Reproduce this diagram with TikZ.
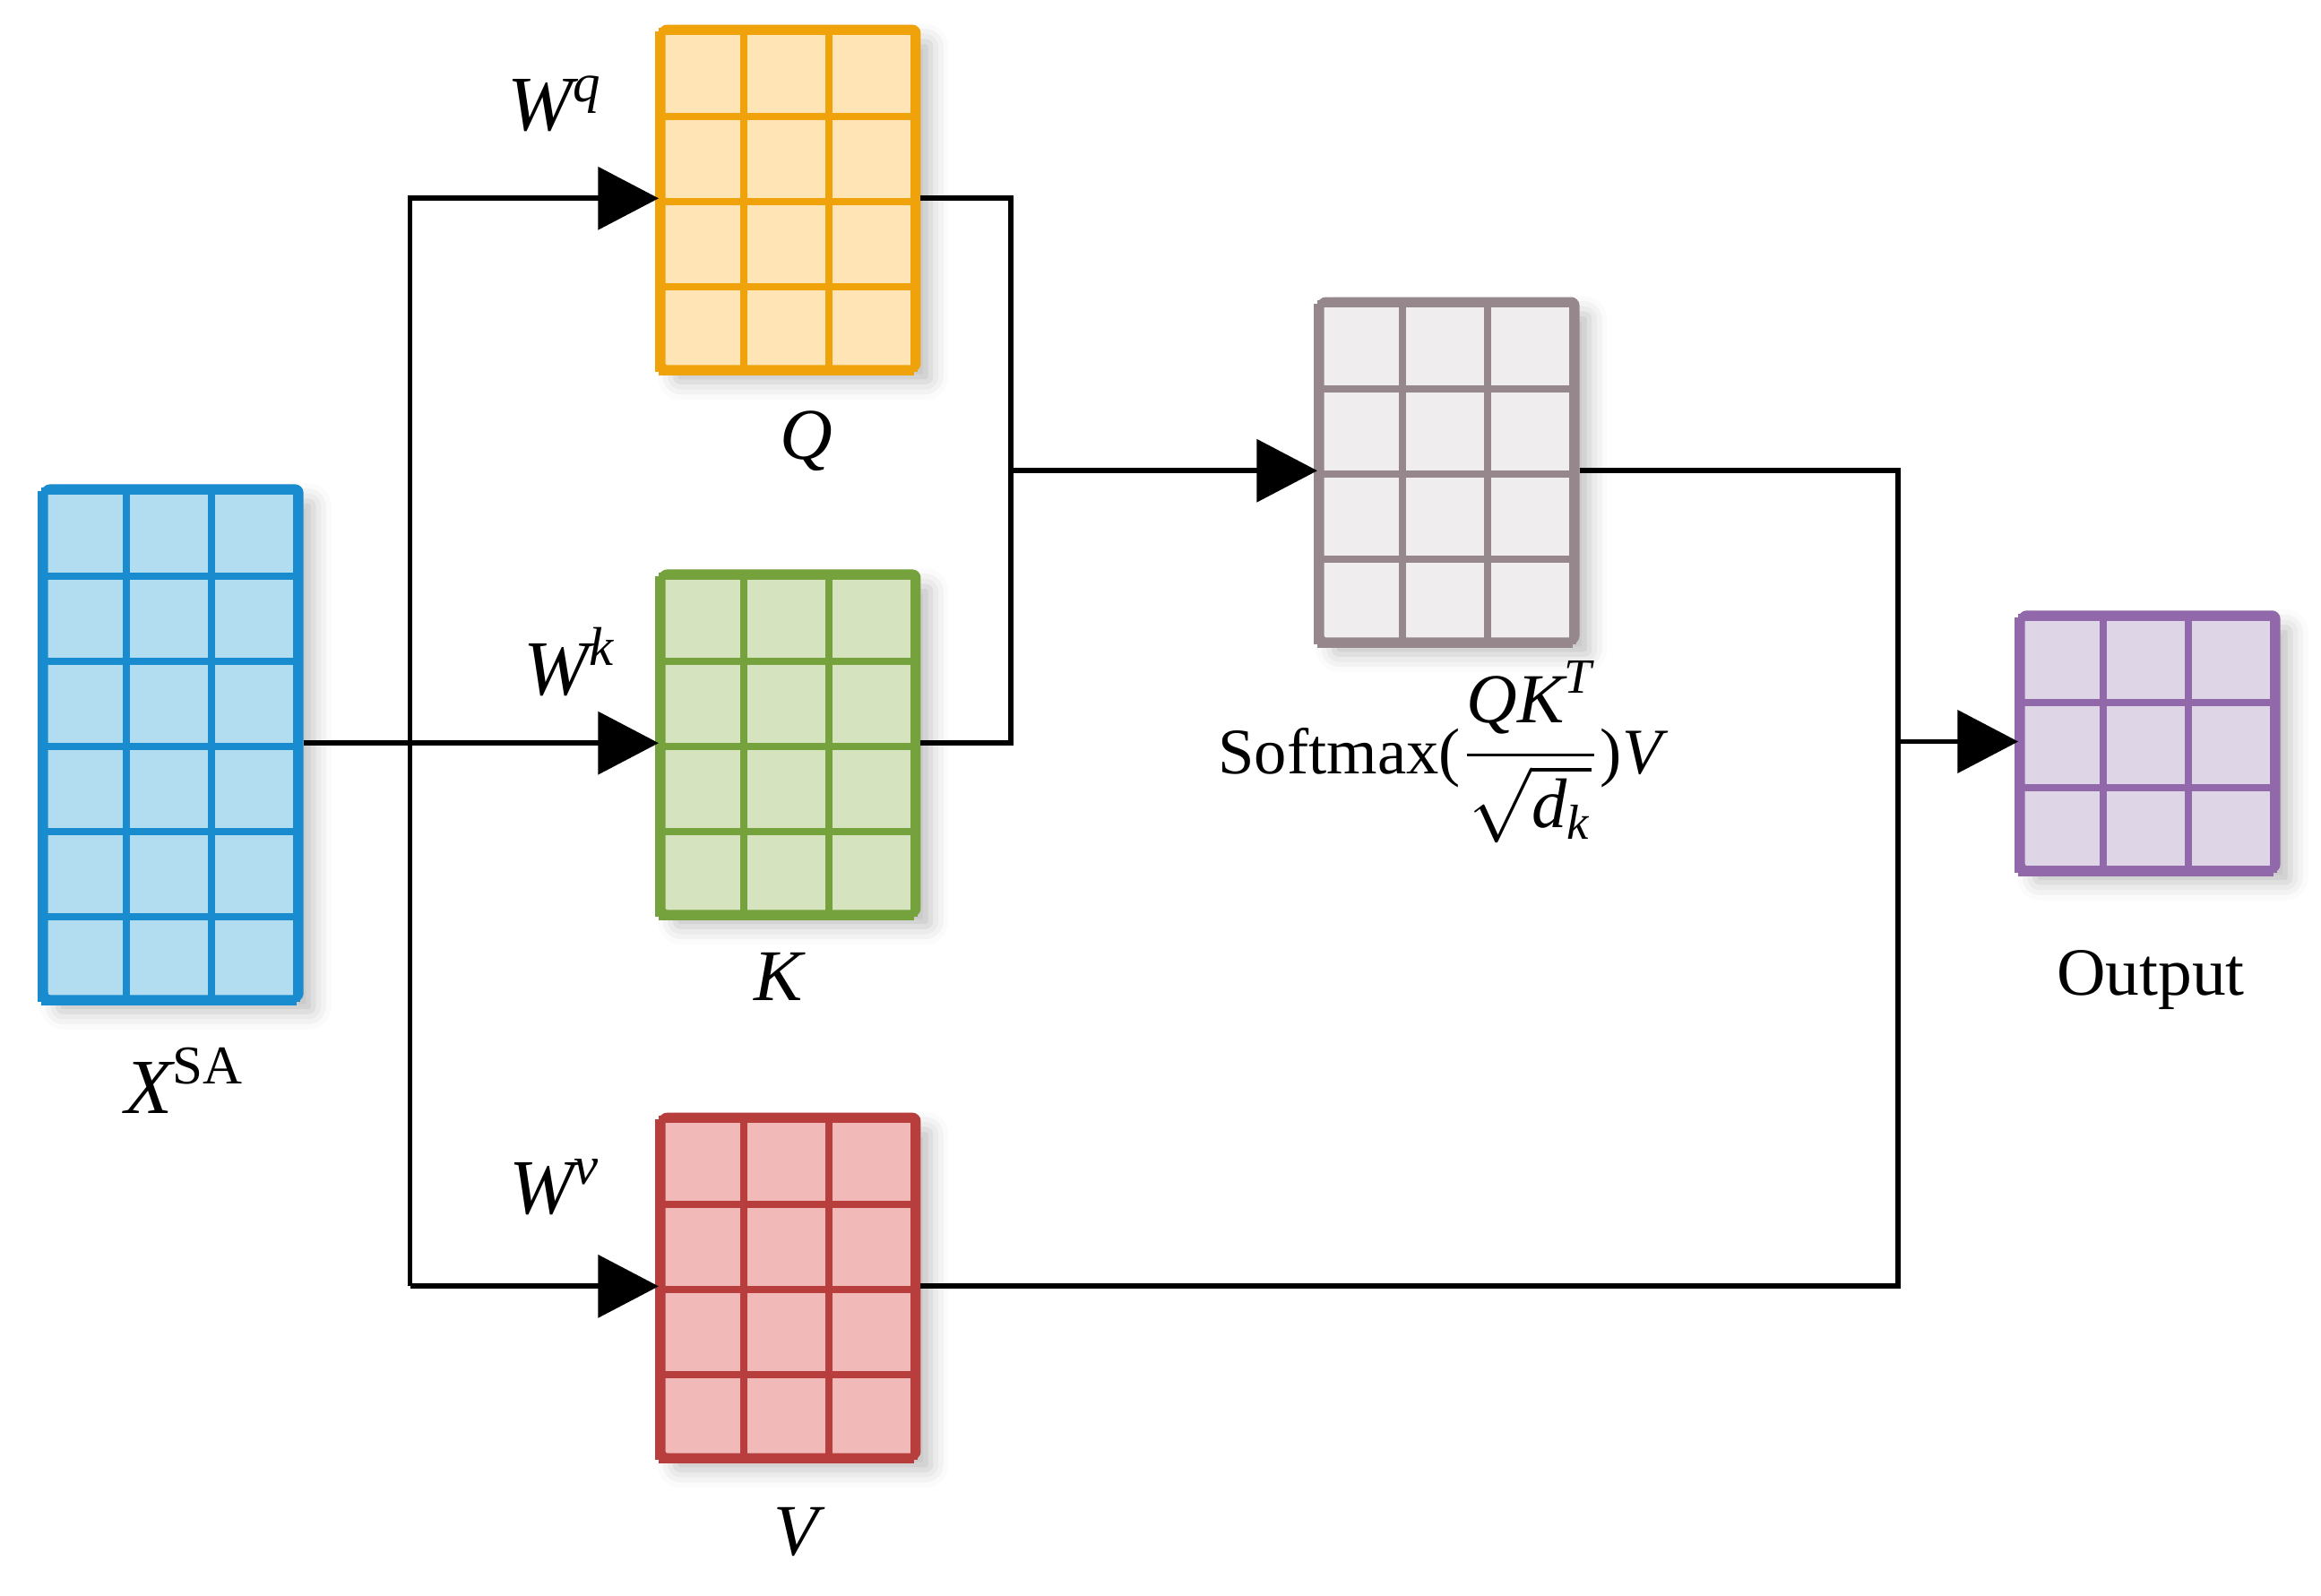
\documentclass[tikz,border=0pt]{standalone}
\usepackage{amsmath}
\usepackage{fontspec}
\setmainfont{Liberation Serif}
\usepackage{tikz}
\usetikzlibrary{arrows.meta, positioning, shadows.blur}
\definecolor{myblue}{RGB}{24,140,206}
\definecolor{myorange}{RGB}{240,162,10}
\definecolor{mygreen}{RGB}{118,162,62}
\definecolor{myred}{RGB}{184,62,62}
\definecolor{mygray}{RGB}{150,135,140}
\definecolor{mypurple}{RGB}{145,105,170}
\definecolor{hdrblue}{RGB}{178,220,239}
\definecolor{hdrorange}{RGB}{255,228,182}
\definecolor{hdrgreen}{RGB}{214,227,191}
\definecolor{hdrred}{RGB}{242,185,185}
\definecolor{hdrgray}{RGB}{240,237,238}
\definecolor{hdrpurple}{RGB}{222,214,230}
\tikzset{
  mat/.style={rectangle, inner sep=0pt, minimum width=1.725cm,
    rounded corners=1pt, line width=1.3pt,
    blur shadow={shadow xshift=0.9mm, shadow yshift=-0.9mm,
      shadow blur radius=1.2mm, shadow opacity=25}},
  bluemat/.style={mat, draw=myblue, fill=hdrblue, minimum height=3.45cm},
  orangemat/.style={mat, draw=myorange, fill=hdrorange, minimum height=2.3cm},
  greenmat/.style={mat, draw=mygreen, fill=hdrgreen, minimum height=2.3cm},
  redmat/.style={mat, draw=myred, fill=hdrred, minimum height=2.3cm},
  graymat/.style={mat, draw=mygray, fill=hdrgray, minimum height=2.3cm},
  purplemat/.style={mat, draw=mypurple, fill=hdrpurple, minimum height=1.725cm},
  cellgrid/.style={line width=1.4pt, step=0.575},
  arrow/.style={-{Triangle[length=4.1mm, width=4.2mm]}, line width=1pt, color=black},
  line/.style={line width=1pt, color=black},
  lbl/.style={font=\fontsize{14}{17}\selectfont},
  wlbl/.style={font=\fontsize{15}{18}\selectfont}
}

\begin{document}
\begin{tikzpicture}
  \useasboundingbox (0,0) rectangle (15.68,-10.78);
  \node[bluemat] (X) at (1.165,-5.02) {};
  \node[orangemat] (Q) at (5.335,-1.34) {};
  \node[greenmat] (K) at (5.335,-5.02) {};
  \node[redmat] (V) at (5.335,-8.69) {};
  \node[graymat] (S) at (9.785,-3.18) {};
  \node[purplemat] (O) at (14.52,-5.01) {};
  \draw[cellgrid, myblue, shift={(X.south west)}] (0,0) grid (1.725,3.45);
  \draw[cellgrid, myorange, shift={(Q.south west)}] (0,0) grid (1.725,2.3);
  \draw[cellgrid, mygreen, shift={(K.south west)}] (0,0) grid (1.725,2.3);
  \draw[cellgrid, myred, shift={(V.south west)}] (0,0) grid (1.725,2.3);
  \draw[cellgrid, mygray, shift={(S.south west)}] (0,0) grid (1.725,2.3);
  \draw[cellgrid, mypurple, shift={(O.south west)}] (0,0) grid (1.725,1.725);
  \coordinate (bus) at (2.77,0);
  \coordinate (qk) at (6.83,0);
  \coordinate (sv) at (12.82,0);
  \draw[arrow] (X.east) -- (K.west);
  \draw[arrow] (bus |- V.west) -- (bus |- Q.west) -- (Q.west);
  \draw[arrow] (bus |- V.west) -- (V.west);
  \draw[line] (Q.east) -- (qk |- Q.east) -- (qk |- K.east) -- (K.east);
  \draw[arrow] (qk |- S.west) -- (S.west);
  \draw[line] (S.east) -- (sv |- S.east) -- (sv |- V.east) -- (V.east);
  \draw[arrow] (sv |- O.west) -- (O.west);
  \node[wlbl] (xlbl) at (1.25,-7.30) {$\textit{X}^{\text{SA}}$};
  \node[wlbl] (wq) at (3.75,-0.70) {$\textit{W}^{\textit{q}}$};
  \node[wlbl] (wk) at (3.85,-4.47) {$\textit{W}^{\textit{k}}$};
  \node[wlbl] (wv) at (3.75,-8.02) {$\textit{W}^{\textit{v}}$};
  \node[lbl] (qlbl) at (5.45,-2.98) {\textit{Q}};
  \node[lbl] (klbl) at (5.27,-6.60) {\textit{K}};
  \node[lbl] (vlbl) at (5.40,-10.35) {\textit{V}};
  \node[font=\fontsize{12.5}{15}\selectfont] (slbl) at (9.75,-5.08)
    {Softmax({\fontsize{13.5}{16}\selectfont$\dfrac{\textit{QK}^{\textit{T}}}{\sqrt{\textit{d}_{\textit{k}}}}$})\textit{V}};
  \node[font=\fontsize{13}{16}\selectfont] (olbl) at (14.53,-6.62) {Output};
\end{tikzpicture}
\end{document}
